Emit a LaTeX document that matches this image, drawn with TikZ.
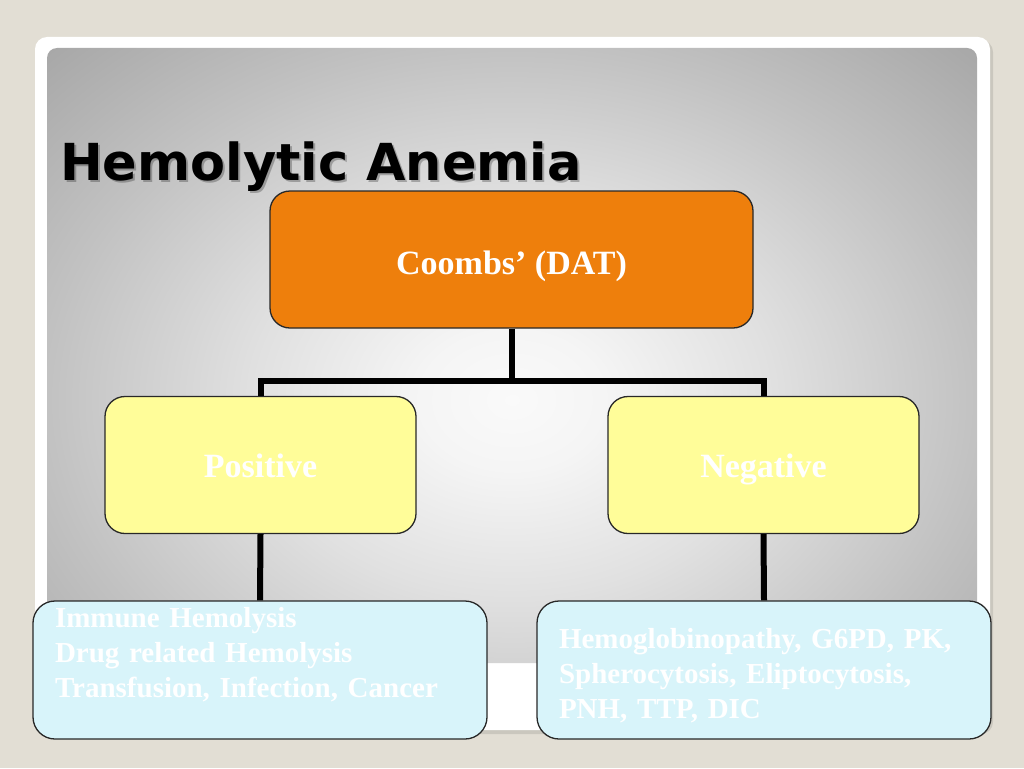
\documentclass[tikz,border=0pt]{standalone}
\usepackage{fontspec}
\setmainfont{Liberation Serif}
\newfontfamily\titlefont{DejaVu Sans}
\definecolor{bgc}{RGB}{226,222,212}
\definecolor{orangefill}{RGB}{238,127,12}
\definecolor{yelfill}{RGB}{255,253,153}
\definecolor{bluefill}{RGB}{216,244,250}
\definecolor{edgec}{RGB}{40,40,40}
\newcommand\lowtext[2]{\raisebox{-#1}[0pt][0pt]{#2}}
\pgfdeclareradialshading{panelshade}{\pgfpoint{0bp}{0bp}}{%
  rgb(0bp)=(0.98,0.98,0.98);
  rgb(5bp)=(0.96,0.96,0.96);
  rgb(14bp)=(0.88,0.88,0.88);
  rgb(25bp)=(0.76,0.76,0.76);
  rgb(36bp)=(0.65,0.65,0.65);
  rgb(50bp)=(0.65,0.65,0.65)}
\tikzset{
  boxbase/.style={draw=edgec, line width=1.3pt, inner sep=0pt, align=center,
    text=white, font=\bfseries\fontsize{34}{40}\selectfont},
  orangebox/.style={boxbase, fill=orangefill, rounded corners=20pt,
    minimum width=483pt, minimum height=137pt},
  yelbox/.style={boxbase, fill=yelfill, rounded corners=20pt,
    minimum width=311pt, minimum height=137pt},
  bluebox/.style={draw=edgec, line width=1.3pt, fill=bluefill, rounded corners=22pt,
    text=white, font=\bfseries\fontsize{29}{35}\selectfont, align=left,
    inner xsep=22pt, inner ysep=0pt, text width=410pt, minimum height=138pt},
  conn/.style={draw=black, line width=6pt, line join=miter},
  titletext/.style={anchor=base west, inner sep=0pt,
    font=\titlefont\bfseries\fontsize{51}{60}\selectfont}
}
\begin{document}
\begin{tikzpicture}[x=1pt,y=-1pt]
\useasboundingbox (0,0) rectangle (1024,768);
\fill[bgc] (0,0) rectangle (1024,768);
% card
\fill[black, opacity=0.10, rounded corners=12pt] (37,40) rectangle (993,734);
\fill[white, rounded corners=12pt] (35,37) rectangle (990,730);
% gradient panel
\begin{scope}
  \clip[rounded corners=10pt] (47,48) rectangle (977,663);
  \shade[shading=panelshade] (47,48) rectangle (977,752);
\end{scope}
% title with soft shadow
\node[titletext, text=black, opacity=0.25] (tshadow) at (62,182.5) {Hemolytic Anemia};
\node[titletext, text=black] (title) at (60,180) {Hemolytic Anemia};
% boxes
\node[orangebox] (coombs) at (511.5,259.5) {\lowtext{15pt}{Coombs’ (DAT)}};
\node[yelbox] (pos) at (260.5,465) {\lowtext{12pt}{Positive}};
\node[yelbox] (neg) at (763.5,465) {\lowtext{12pt}{Negative}};
\node[bluebox, text depth=106pt] (imm) at (260,670) {Immune Hemolysis\\Drug related Hemolysis\\Transfusion, Infection, Cancer};
\node[bluebox, text height=32pt] (hgb) at (764,670) {Hemoglobinopathy, G6PD, PK,\\Spherocytosis, Eliptocytosis,\\PNH, TTP, DIC};
% connectors
\coordinate (j) at (511.5,381);
\draw[conn] (coombs.south) -- (j);
\draw[conn] (pos.north) |- (j) -| (neg.north);
\draw[conn] (pos.south) -- (imm.north);
\draw[conn] (neg.south) -- (hgb.north);
\end{tikzpicture}
\end{document}
